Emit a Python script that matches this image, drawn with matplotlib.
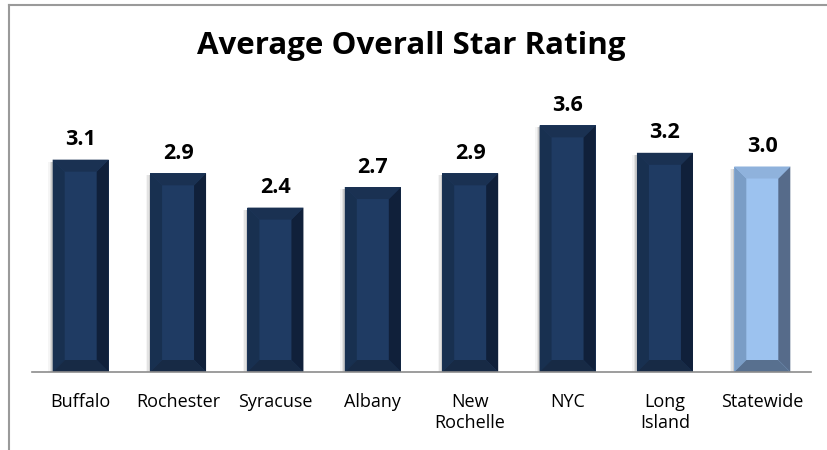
import matplotlib
matplotlib.use("Agg")
import matplotlib.pyplot as plt
from matplotlib.patches import Polygon
from matplotlib.lines import Line2D

categories = ["Buffalo", "Rochester", "Syracuse", "Albany", "New\nRochelle", "NYC", "Long\nIsland", "Statewide"]
values = [3.1, 2.9, 2.4, 2.7, 2.9, 3.6, 3.2, 3.0]
labels = ["3.1", "2.9", "2.4", "2.7", "2.9", "3.6", "3.2", "3.0"]
title = "Average Overall Star Rating"

plt.rcParams['font.family'] = ['Open Sans', 'DejaVu Sans']

W, H = 827, 450
fig = plt.figure(figsize=(W / 100, H / 100), dpi=100)
ax_left, ax_right, ax_bot, ax_top = 32, 811, 372, 98
ax = fig.add_axes([ax_left / W, (H - ax_bot) / H, (ax_right - ax_left) / W, (ax_bot - ax_top) / H])
ymax = 4.0
ax.set_xlim(-0.5, len(categories) - 0.5)
ax.set_ylim(0, ymax)

bw = 0.575
dark = dict(face="#1f3b63", left="#183050", right="#10203a", top="#1a3152", bot="#172a45")
light = dict(face="#9cc2ef", left="#7a9dc6", right="#566b8a", top="#8fb2dc", bot="#58708f")

# pixel -> data conversions
px_x = (len(categories)) / (ax_right - ax_left)
px_y = ymax / (ax_bot - ax_top)
bev = 12

for i, v in enumerate(values):
    c = light if i == len(values) - 1 else dark
    x0, x1 = i - bw / 2, i + bw / 2
    bx, by = bev * px_x, bev * px_y
    # shadow
    for k, a in enumerate([0.10, 0.07, 0.04]):
        ax.add_patch(Polygon([(x0 - (k + 1) * 1.5 * px_x, 0), (x0, 0), (x0, v - 2 * px_y),
                              (x0 - (k + 1) * 1.5 * px_x, v - 2 * px_y)],
                             closed=True, facecolor="black", alpha=a, lw=0, zorder=1))
    ax.bar(i, v, width=bw, color=c["face"], zorder=2, linewidth=0)
    ax.add_patch(Polygon([(x0, 0), (x0, v), (x0 + bx, v - by), (x0 + bx, by)], closed=True,
                         facecolor=c["left"], lw=0, zorder=3))
    ax.add_patch(Polygon([(x1, 0), (x1, v), (x1 - bx, v - by), (x1 - bx, by)], closed=True,
                         facecolor=c["right"], lw=0, zorder=3))
    ax.add_patch(Polygon([(x0, v), (x1, v), (x1 - bx, v - by), (x0 + bx, v - by)], closed=True,
                         facecolor=c["top"], lw=0, zorder=3))
    ax.add_patch(Polygon([(x0, 0), (x1, 0), (x1 - bx, by), (x0 + bx, by)], closed=True,
                         facecolor=c["bot"], lw=0, zorder=3))
    ax.text(i, v + 20 * px_y, labels[i], ha="center", va="center", fontsize=15.5,
            fontweight="bold", color="black", zorder=4)

ax.set_xticks(range(len(categories)))
ax.set_xticklabels(categories, fontsize=13, linespacing=1.2, va="top")
ax.tick_params(axis="x", length=0, pad=15)
ax.set_yticks([])
for s in ["top", "right", "left"]:
    ax.spines[s].set_visible(False)
ax.spines["bottom"].set_color("#8c8c8c")
ax.spines["bottom"].set_linewidth(1.2)
ax.spines["bottom"].set_zorder(5)

fig.text(411 / W, 1 - 46 / H, title, ha="center", va="center", fontsize=22.5, fontweight="bold")

# outer frame (left and top edges visible)
fig.add_artist(Line2D([9 / W, 9 / W], [0, 1 - 4.5 / H], color="#9a9a9a", lw=1.5, transform=fig.transFigure))
fig.add_artist(Line2D([9 / W, 1], [1 - 4.5 / H, 1 - 4.5 / H], color="#9a9a9a", lw=1.5, transform=fig.transFigure))

fig.savefig("out.png", dpi=100, facecolor="white")
